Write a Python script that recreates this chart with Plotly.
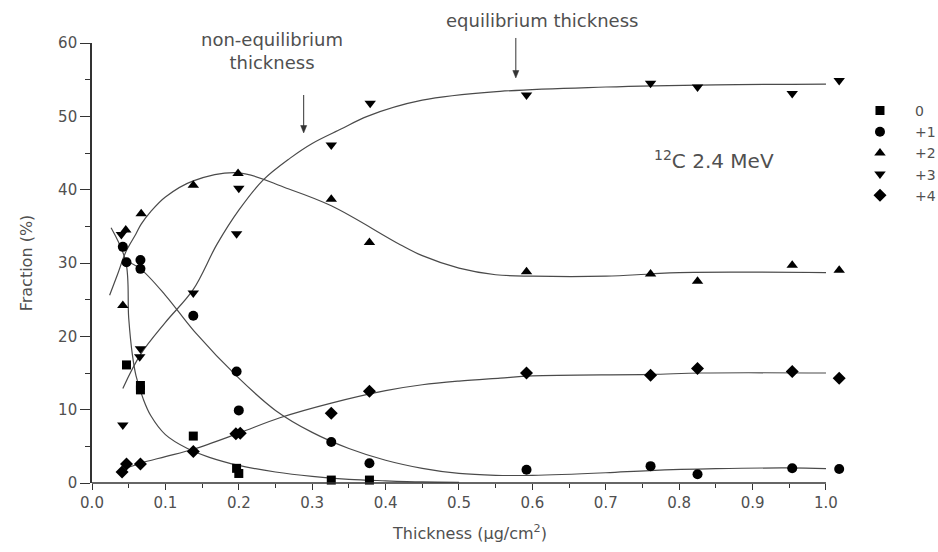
import plotly.graph_objects as go

# ---- measured data points (thickness in ug/cm2, fraction in %) ----
x_q0 = [0.047, 0.066, 0.066, 0.138, 0.197, 0.200, 0.326, 0.378]
y_q0 = [16.1, 13.3, 12.7, 6.4, 2.0, 1.3, 0.4, 0.4]

x_q1 = [0.042, 0.047, 0.066, 0.066, 0.138, 0.197, 0.200, 0.326, 0.378, 0.592, 0.761, 0.825, 0.954, 1.018]
y_q1 = [32.2, 30.1, 30.4, 29.2, 22.8, 15.2, 9.9, 5.6, 2.7, 1.8, 2.3, 1.2, 2.0, 1.9]

x_q2 = [0.042, 0.046, 0.067, 0.138, 0.199, 0.326, 0.378, 0.592, 0.761, 0.825, 0.954, 1.018]
y_q2 = [24.2, 34.5, 36.7, 40.6, 42.2, 38.7, 32.8, 28.8, 28.5, 27.5, 29.7, 29.0]

x_q3 = [0.040, 0.042, 0.065, 0.066, 0.138, 0.197, 0.200, 0.326, 0.379, 0.592, 0.761, 0.825, 0.954, 1.018]
y_q3 = [33.9, 7.9, 17.2, 18.3, 25.9, 34.0, 40.2, 46.1, 51.8, 52.9, 54.5, 54.0, 53.1, 54.9]

x_q4 = [0.041, 0.047, 0.066, 0.138, 0.196, 0.202, 0.326, 0.378, 0.592, 0.761, 0.825, 0.954, 1.018]
y_q4 = [1.5, 2.6, 2.6, 4.3, 6.7, 6.8, 9.5, 12.5, 15.0, 14.7, 15.6, 15.2, 14.3]

# ---- fitted curves ----
fx_q0 = [0.026, 0.046, 0.050, 0.055, 0.060, 0.070, 0.080, 0.100, 0.130, 0.160, 0.200, 0.250, 0.300, 0.350, 0.400, 0.450, 0.500]
fy_q0 = [34.8, 30.2, 22.5, 17.5, 14.6, 11.4, 9.2, 6.6, 4.7, 3.5, 2.4, 1.5, 0.9, 0.5, 0.3, 0.15, 0.1]

fx_q1 = [0.046, 0.066, 0.100, 0.140, 0.200, 0.250, 0.300, 0.350, 0.400, 0.450, 0.500, 0.550, 0.600, 0.700, 0.760, 0.850, 0.950, 1.000]
fy_q1 = [30.3, 29.2, 25.6, 20.6, 14.3, 9.9, 6.9, 4.7, 3.1, 2.0, 1.3, 1.05, 1.05, 1.4, 1.7, 1.95, 2.05, 1.95]

fx_q2 = [0.024, 0.035, 0.046, 0.060, 0.067, 0.080, 0.100, 0.138, 0.200, 0.265, 0.326, 0.420, 0.450, 0.500, 0.550, 0.600, 0.700, 0.760, 0.800, 1.000]
fy_q2 = [25.6, 28.5, 31.5, 34.0, 35.3, 37.0, 39.0, 41.2, 42.3, 40.2, 37.8, 32.5, 31.0, 29.3, 28.4, 28.2, 28.2, 28.5, 28.7, 28.7]

fx_q3 = [0.042, 0.066, 0.100, 0.138, 0.170, 0.200, 0.233, 0.270, 0.300, 0.340, 0.375, 0.450, 0.556, 0.700, 0.850, 1.000]
fy_q3 = [12.9, 17.5, 21.9, 26.4, 32.5, 37.2, 41.3, 44.3, 46.3, 48.3, 50.0, 52.2, 53.4, 54.0, 54.3, 54.4]

fx_q4 = [0.046, 0.066, 0.100, 0.138, 0.200, 0.256, 0.326, 0.400, 0.450, 0.500, 0.556, 0.600, 0.760, 0.830, 1.000]
fy_q4 = [2.0, 2.7, 3.6, 4.6, 6.8, 8.9, 10.9, 12.6, 13.4, 13.9, 14.3, 14.6, 14.8, 15.0, 15.0]

names = ["0", "+1", "+2", "+3", "+4"]
symbols = ["square", "circle", "triangle-up", "triangle-down", "diamond"]
sizes = [9, 10, 10, 10, 10]

pts = [(x_q0, y_q0), (x_q1, y_q1), (x_q2, y_q2), (x_q3, y_q3), (x_q4, y_q4)]
fits = [(fx_q0, fy_q0), (fx_q1, fy_q1), (fx_q2, fy_q2), (fx_q3, fy_q3), (fx_q4, fy_q4)]

TXT = "#505050"
AX = "#333333"
FONT = "DejaVu Sans, Liberation Sans, Arial, sans-serif"

fig = go.Figure()
for (fx, fy) in fits:
    fig.add_trace(go.Scatter(x=fx, y=fy, mode="lines", showlegend=False, hoverinfo="skip",
                             line=dict(color="#4a4a4a", width=1.2, shape="spline", smoothing=1.0)))
for (px, py), n, s, sz in zip(pts, names, symbols, sizes):
    fig.add_trace(go.Scatter(x=px, y=py, mode="markers", name=n, cliponaxis=False,
                             marker=dict(symbol=s, size=sz, color="black", line=dict(width=0))))

fig.update_layout(
    width=938, height=552,
    margin=dict(l=92, r=90, t=43, b=69, autoexpand=False),
    plot_bgcolor="white", paper_bgcolor="white",
    font=dict(family=FONT, size=15, color=TXT),
    legend=dict(x=0.996, y=0.882, xanchor="left", yanchor="top", itemwidth=60,
                font=dict(size=14, color=TXT), bgcolor="rgba(0,0,0,0)",
                tracegroupgap=0, itemclick=False),
    xaxis=dict(range=[0, 1.03], showgrid=False, zeroline=False, showline=False,
               ticks="outside", ticklen=6, tickwidth=1.4,
               tickcolor=AX, dtick=0.1, tick0=0, tickformat=".1f",
               tickfont=dict(size=15, color=TXT),
               minor=dict(ticks="outside", dtick=0.05, ticklen=4, tickwidth=1.2, tickcolor=AX),
               title=dict(text="Thickness (μg/cm<sup>2</sup>)", standoff=16,
                          font=dict(size=16, color=TXT))),
    yaxis=dict(range=[0, 60], showgrid=False, zeroline=False, showline=True,
               linecolor=AX, linewidth=1.6, ticks="outside", ticklen=10, tickwidth=1.4,
               tickcolor=AX, dtick=10, tick0=0,
               tickfont=dict(size=15, color=TXT),
               minor=dict(ticks="outside", dtick=5, ticklen=5, tickwidth=1.2, tickcolor=AX),
               title=dict(text="Fraction (%)", standoff=22, font=dict(size=16, color=TXT))),
)

# x axis line: spans 0 .. 1.0 only
fig.add_shape(type="line", xref="x", yref="paper", x0=0, x1=1.0, y0=0, y1=0,
              line=dict(color=AX, width=1.6))

# arrows (paper coordinates)
def arrow(xp, y_tail, y_tip):
    fig.add_shape(type="line", xref="paper", yref="paper", x0=xp, x1=xp, y0=y_tail, y1=y_tip + 0.015,
                  line=dict(color=AX, width=1))
    fig.add_shape(type="path", xref="paper", yref="paper",
                  path=f"M {xp-0.004} {y_tip+0.017} L {xp+0.004} {y_tip+0.017} L {xp} {y_tip} Z",
                  fillcolor=AX, line=dict(color=AX, width=0.5))

arrow(0.280, 0.8818, 0.7955)
arrow(0.5606, 1.0114, 0.9205)

fig.add_annotation(x=0.2376, y=0.9807, xref="paper", yref="paper", xanchor="center", yanchor="middle",
                   text="non-equilibrium<br>thickness", showarrow=False, font=dict(size=18, color=TXT))
fig.add_annotation(x=0.595, y=1.052, xref="paper", yref="paper", xanchor="center", yanchor="middle",
                   text="equilibrium thickness", showarrow=False, font=dict(size=18, color=TXT))
fig.add_annotation(x=0.8224, y=0.734, xref="paper", yref="paper", xanchor="center", yanchor="middle",
                   text="<sup>12</sup>C 2.4 MeV", showarrow=False, font=dict(size=20, color=TXT))

fig.write_html("out.html")
